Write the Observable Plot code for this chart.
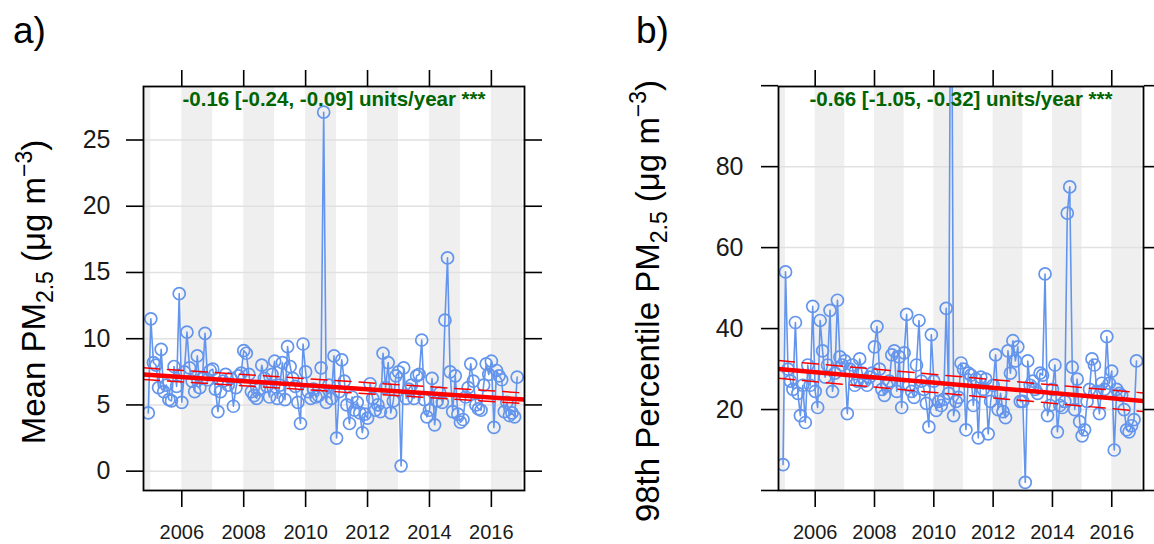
<!DOCTYPE html>
<html><head><meta charset="utf-8">
<script src="https://cdn.jsdelivr.net/npm/d3@7"></script>
<script src="https://cdn.jsdelivr.net/npm/@observablehq/plot@0.6"></script>
<style>
html,body{margin:0;padding:0;background:#fff;}
#wrap{position:relative;width:1154px;height:544px;overflow:hidden;font-family:"Liberation Sans",Arial,sans-serif;}
#wrap svg{position:absolute;top:0;overflow:visible;}
</style></head><body><div id="wrap"></div>
<script>
// first monthly value is December 2004, one value per month
const firstMonth = 2004 + 11 / 12;

// Panel a: monthly mean PM2.5 (µg m-3)
const meanPM = [
  4.4,                                                             // 2004 Dec
  11.5, 8.2, 8.0, 6.3, 9.2, 6.0, 6.5, 5.4, 5.3, 7.9, 6.4, 13.4,   // 2005
  5.2, 7.5, 10.5, 7.8, 6.8, 6.0, 8.7, 6.3, 7.0, 10.4, 6.9, 7.6,   // 2006
  7.7, 6.2, 4.5, 6.0, 6.8, 7.3, 6.5, 7.0, 4.9, 6.3, 7.2, 7.4,     // 2007
  9.1, 8.9, 7.3, 6.0, 5.7, 5.5, 6.2, 8.0, 7.0, 6.4, 5.6, 7.3,     // 2008
  8.3, 5.5, 6.5, 8.2, 5.4, 9.4, 7.9, 7.0, 6.4, 5.2, 3.6, 9.6,     // 2009
  7.5, 6.0, 5.5, 6.2, 5.6, 5.7, 7.8, 27.1, 5.2, 6.5, 5.5, 8.7,    // 2010
  2.5, 6.0, 8.4, 6.8, 5.0, 3.6, 5.6, 4.6, 5.2, 4.4, 2.9, 4.3,     // 2011
  4.0, 6.6, 5.5, 4.6, 5.0, 4.5, 8.9, 6.3, 8.2, 4.4, 5.3, 7.2,     // 2012
  7.5, 0.4, 7.8, 5.5, 6.2, 6.5, 5.5, 7.2, 7.3, 9.9, 5.4, 4.1,     // 2013
  4.6, 7.0, 3.5, 5.3, 5.9, 5.2, 11.4, 16.1, 7.5, 4.5, 7.2, 4.3,   // 2014
  3.7, 3.9, 5.6, 6.3, 8.1, 6.8, 5.0, 4.7, 4.6, 6.5, 8.1, 7.3,     // 2015
  8.3, 3.3, 7.6, 7.2, 6.9, 4.5, 5.2, 4.2, 4.4, 4.1, 7.1           // 2016 Jan-Nov
];

// Panel b: monthly 98th percentile PM2.5 (µg m-3)
const p98PM = [
  6.4,                                                             // 2004 Dec
  54, 30, 27, 25, 41.5, 24, 18.5, 26, 16.8, 31, 26, 45.5,          // 2005
  24.5, 20.5, 42, 34.5, 28, 31, 44.5, 24.5, 29, 47, 33, 31,        // 2006
  32, 19, 30, 31, 26, 27, 32.5, 29, 27, 26, 28, 29,                // 2007
  35.5, 40.5, 30, 25, 23.5, 26, 27, 33.5, 34.5, 24.5, 33, 20.5,    // 2008
  34, 43.5, 26, 24.5, 23, 31, 42, 27, 25, 21.5, 15.7, 38.5,        // 2009
  27, 19.8, 22, 21, 22.5, 45, 24, 160, 18.5, 22, 23, 31.5,         // 2010
  30, 15, 29, 28.5, 21, 27.5, 13, 28, 25, 27.5, 14, 22,            // 2011
  26, 33.5, 20, 24, 19.5, 18, 34.5, 29, 37, 32, 35.5, 22,          // 2012
  22, 2, 32, 26, 27, 25, 24, 29, 28.5, 53.5, 18.5, 21,             // 2013
  25, 31, 14.5, 21, 20.5, 22, 68.5, 75, 30.5, 20, 27.5, 17,        // 2014
  13.5, 15, 22, 25, 32.5, 31, 24.5, 19, 26.5, 25, 38, 26.5,        // 2015
  29.5, 10, 25, 24, 23.5, 20, 15, 14.5, 16, 17.5, 32               // 2016 Jan-Nov
];

// Theil-Sen trend lines, values at the left and right edge of the panel
const trendCenterA = [7.3, 5.4];
const trendUpperA = [7.8, 5.9];
const trendLowerA = [6.92, 5.1];
const trendCenterB = [30.0, 22.1];
const trendUpperB = [32.1, 24.1];
const trendLowerB = [27.7, 19.5];

const trendLabelA = "-0.16 [-0.24, -0.09] units/year ***";
const trendLabelB = "-0.66 [-1.05, -0.32] units/year ***";

const xTicks = [2006, 2008, 2010, 2012, 2014, 2016];
const yTicksA = [0, 5, 10, 15, 20, 25];
const yTicksB = [0, 20, 40, 60, 80, 100];
const yLabelsB = [20, 40, 60, 80];
const shadedYears = [2004, 2006, 2008, 2010, 2012, 2014, 2016];

const xDomain = [2004.763, 2017.07];
const font = "'Liberation Sans', Arial, sans-serif";

function panel(o) {
  const data = o.values.map((v, i) => ({t: firstMonth + i / 12, v}));
  const seg = (a) => [{t: xDomain[0], v: a[0]}, {t: xDomain[1], v: a[1]}];
  return Plot.plot({
    width: 577, height: 544,
    marginLeft: o.marginLeft, marginRight: o.marginRight, marginTop: 86, marginBottom: 54,
    x: {type: "linear", domain: xDomain},
    y: {type: "linear", domain: o.yDomain},
    style: {fontFamily: font, fontSize: "20px", color: "black", background: "transparent", overflow: "visible"},
    marks: [
      Plot.rect(shadedYears, {x1: d => d, x2: d => d + 1, y1: () => o.yDomain[0], y2: () => o.yDomain[1], fill: "#efefef", clip: true}),
      Plot.gridY(o.gridTicks, {stroke: "#e1e1e1", strokeOpacity: 1, strokeWidth: 1.5}),
      Plot.line(data, {x: "t", y: "v", stroke: "#6495ED", strokeWidth: 1.6, clip: true}),
      Plot.dot(data, {x: "t", y: "v", r: 6, stroke: "#6495ED", strokeWidth: 1.7, fill: "none", clip: true}),
      Plot.line(seg(o.upper), {x: "t", y: "v", stroke: "red", strokeWidth: 1.5, strokeDasharray: "16,8", clip: true}),
      Plot.line(seg(o.lower), {x: "t", y: "v", stroke: "red", strokeWidth: 1.5, strokeDasharray: "16,8", clip: true}),
      Plot.line(seg(o.center), {x: "t", y: "v", stroke: "red", strokeWidth: 4.5, clip: true}),
      Plot.text([o.label], {text: d => d, frameAnchor: "top", lineAnchor: "top", dy: 5, fill: "#006400", fontWeight: "bold", fontSize: 20.5}),
      Plot.frame({stroke: "black", strokeWidth: 1.8}),
      // tick lines on all four sides
      Plot.axisX(xTicks, {anchor: "bottom", tickSize: 17, strokeWidth: 1.6, tickFormat: () => "", label: null}),
      Plot.axisX(xTicks, {anchor: "top", tickSize: 17, strokeWidth: 1.6, tickFormat: () => "", label: null}),
      Plot.axisY(o.yTicks, {anchor: "left", tickSize: 17, strokeWidth: 1.6, tickFormat: () => "", label: null}),
      Plot.axisY(o.yTicks, {anchor: "right", tickSize: 17, strokeWidth: 1.6, tickFormat: () => "", label: null}),
      // tick labels
      Plot.text(xTicks, {x: d => d, text: d => String(d), frameAnchor: "bottom", lineAnchor: "top", dy: 34, fontSize: 20, fill: "#1a1a1a"}),
      Plot.text(o.yLabels, {y: d => d, text: d => String(d), frameAnchor: "left", textAnchor: "end", lineAnchor: "middle", dx: o.labelDx, fontSize: 25, fill: "#1a1a1a"})
    ]
  });
}

function addTitles(svg, letter, letterX, prefix, tx, ty) {
  const s = d3.select(svg);
  s.append("text").attr("x", letterX).attr("y", 43).attr("text-anchor", "start")
    .attr("font-size", 37).attr("fill", "black").text(letter);
  const t = s.append("text")
    .attr("transform", `translate(${tx},${ty}) rotate(-90)`)
    .attr("text-anchor", "middle").attr("font-size", 33).attr("fill", "black");
  t.append("tspan").text(prefix + "PM");
  t.append("tspan").attr("font-size", 23).attr("dy", 8).text("2.5");
  t.append("tspan").attr("dy", -8).text(" (\u03BCg m");
  t.append("tspan").attr("font-size", 23).attr("dy", -13).text("\u22123");
  t.append("tspan").attr("dy", 13).text(")");
}

const wrap = document.getElementById("wrap");

const svgA = panel({
  values: meanPM, yDomain: [-1.46, 29.04], yTicks: yTicksA, gridTicks: yTicksA, yLabels: yTicksA, labelDx: -33,
  center: trendCenterA, upper: trendUpperA, lower: trendLowerA, label: trendLabelA,
  marginLeft: 143, marginRight: 53
});
svgA.style.left = "0px";
addTitles(svgA, "a)", 13, "Mean ", 45, 292);
wrap.appendChild(svgA);

const svgB = panel({
  values: p98PM, yDomain: [0, 99.8], yTicks: yTicksB, gridTicks: yLabelsB, yLabels: yLabelsB, labelDx: -35,
  center: trendCenterB, upper: trendUpperB, lower: trendLowerB, label: trendLabelB,
  marginLeft: 201, marginRight: 11
});
svgB.style.left = "577px";
addTitles(svgB, "b)", 59, "98th Percentile ", 82, 301);
wrap.appendChild(svgB);
</script></body></html>
